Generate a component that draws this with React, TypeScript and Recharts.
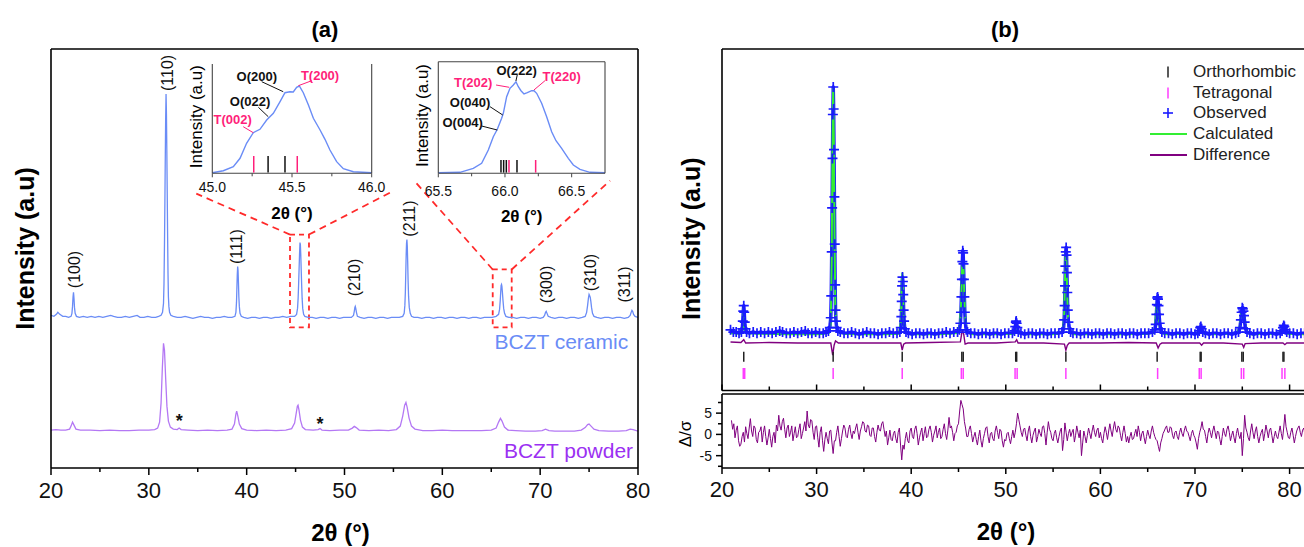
import React from 'react';
import { ComposedChart, Line, Scatter, XAxis, YAxis, ReferenceLine, ReferenceArea } from 'recharts';

const SANS = '"Liberation Sans", Arial, Helvetica, sans-serif';

// ---------------- Panel (a) data: 2θ (deg), intensity (a.u., stacked) ----------------
const ceramicPattern: number[][] = [
  [20.0,153],[20.3,152],[20.55,154],[20.7,156],[20.9,154],[21.2,152],[21.5,152],[21.8,151],[22.05,152],[22.14,155],[22.2,162],[22.25,171],[22.3,176],[22.35,170],[22.4,161],[22.47,155],[22.6,152],[22.9,151],[23.3,152],[23.7,151],[24.1,152],[24.5,151],[24.9,152],[25.3,151],[25.7,152],[26.1,153],[26.4,152],[26.8,151],[27.2,151],[27.6,152],[28.0,151],[28.4,152],[28.8,153],[29.1,151],[29.5,151],[29.9,152],[30.3,151],[30.7,151],[31.0,152],[31.25,153],[31.4,156],[31.5,165],[31.55,185],[31.6,225],[31.64,265],[31.68,310],[31.72,350],[31.76,375],[31.8,355],[31.84,318],[31.88,275],[31.92,232],[31.96,195],[32.0,172],[32.05,162],[32.12,156],[32.25,153],[32.5,152],[32.9,151],[33.3,151],[33.7,152],[34.1,151],[34.5,150],[34.9,151],[35.3,152],[35.7,151],[36.1,151],[36.5,150],[36.9,151],[37.3,151],[37.7,152],[38.1,151],[38.5,151],[38.8,152],[38.9,156],[38.96,166],[39.0,180],[39.04,194],[39.08,202],[39.12,198],[39.16,186],[39.2,172],[39.25,162],[39.32,155],[39.45,152],[39.7,151],[40.1,150],[40.5,151],[40.9,151],[41.3,150],[41.7,151],[42.1,151],[42.5,150],[42.9,151],[43.3,151],[43.7,152],[44.1,151],[44.5,152],[44.9,152],[45.1,154],[45.2,160],[45.26,170],[45.31,184],[45.36,200],[45.41,216],[45.45,226],[45.49,224],[45.53,214],[45.57,200],[45.62,184],[45.67,170],[45.73,160],[45.82,154],[45.95,152],[46.3,151],[46.7,151],[47.1,150],[47.5,151],[47.9,151],[48.3,150],[48.7,151],[49.1,151],[49.5,150],[49.9,151],[50.3,151],[50.7,151],[50.92,153],[51.0,157],[51.06,161],[51.1,162],[51.15,160],[51.22,156],[51.32,152],[51.6,151],[52.0,150],[52.4,151],[52.8,151],[53.2,150],[53.6,151],[54.0,151],[54.4,150],[54.8,151],[55.2,151],[55.6,151],[55.95,152],[56.1,155],[56.17,163],[56.22,176],[56.26,194],[56.3,212],[56.34,225],[56.38,229],[56.42,222],[56.46,206],[56.5,188],[56.55,172],[56.62,161],[56.72,155],[56.85,152],[57.1,151],[57.5,151],[57.9,150],[58.3,151],[58.7,151],[59.1,150],[59.5,151],[59.9,151],[60.3,150],[60.7,151],[61.1,151],[61.5,150],[61.9,151],[62.3,151],[62.7,150],[63.1,151],[63.5,151],[63.9,150],[64.3,151],[64.7,151],[65.1,151],[65.5,152],[65.75,154],[65.85,159],[65.92,168],[65.97,177],[66.01,183],[66.05,184],[66.09,182],[66.14,176],[66.2,168],[66.27,160],[66.36,155],[66.5,152],[66.8,151],[67.2,151],[67.6,150],[68.0,151],[68.4,151],[68.8,150],[69.2,151],[69.6,151],[70.0,150],[70.3,151],[70.45,153],[70.55,156],[70.62,157],[70.7,155],[70.82,152],[71.1,151],[71.5,150],[71.9,151],[72.3,151],[72.7,150],[73.1,151],[73.5,151],[73.9,150],[74.3,151],[74.6,152],[74.75,156],[74.85,163],[74.93,170],[75.0,174],[75.05,173],[75.12,171],[75.18,167],[75.25,161],[75.35,155],[75.5,152],[75.8,151],[76.2,150],[76.6,151],[77.0,151],[77.4,150],[77.8,151],[78.2,151],[78.6,150],[79.0,151],[79.2,153],[79.3,156],[79.38,158],[79.45,157],[79.55,154],[79.7,152],[80.0,151],
];

const powderPattern: number[][] = [
  [20.0,38],[20.5,38.5],[21.0,38],[21.5,38],[21.9,39],[22.05,42],[22.2,46],[22.35,43],[22.55,39],[23.0,38],[24.0,38],[25.0,37.5],[26.0,38],[27.0,37.5],[28.0,37.5],[29.0,38],[30.0,38],[30.6,38.5],[30.9,40],[31.1,46],[31.25,65],[31.38,100],[31.5,125],[31.6,118],[31.72,90],[31.85,62],[32.0,47],[32.2,41],[32.5,39],[32.9,38.5],[33.1,40],[33.3,38.5],[34.0,38],[35.0,37.5],[36.0,38],[37.0,37.5],[38.0,38],[38.5,39],[38.75,44],[38.9,54],[38.98,57],[39.1,52],[39.25,44],[39.5,39.5],[40.0,38],[41.0,37.5],[42.0,38],[43.0,37.5],[44.0,38],[44.6,39.5],[44.9,45],[45.05,54],[45.18,62],[45.25,63],[45.35,58],[45.5,48],[45.7,41],[46.0,38.5],[46.8,38],[47.3,38.5],[47.5,39.5],[47.7,38],[48.5,37.5],[49.5,38],[50.4,38],[50.8,40],[51.0,41.7],[51.2,40.5],[51.5,38],[52.5,37.5],[53.5,38],[54.5,37.5],[55.3,38.5],[55.7,42],[55.95,52],[56.15,63],[56.28,65.7],[56.4,61],[56.6,50],[56.85,42],[57.2,39],[58.0,37.5],[59.0,37.5],[60.0,38],[61.0,37.5],[62.0,37.5],[63.0,37.5],[64.0,37.5],[65.0,38],[65.5,40],[65.75,46],[65.94,49.7],[66.1,47],[66.35,41],[66.7,38],[67.5,37.5],[68.5,37],[69.5,37],[70.2,37.5],[70.55,39],[70.9,37.5],[71.5,37],[72.5,37],[73.5,37],[74.2,38],[74.6,40.5],[74.85,43.5],[75.0,44],[75.2,42],[75.5,39],[76.0,37.5],[77.0,37],[78.0,37],[78.8,37.5],[79.2,39],[79.5,38.5],[80.0,37],
];

const peakLabels = [
  { x: 22.36, y: 199, text: '(100)' },
  { x: 31.9, y: 396, text: '(110)' },
  { x: 38.98, y: 222, text: '(111)' },
  { x: 51.07, y: 191, text: '(210)' },
  { x: 56.6, y: 250, text: '(211)' },
  { x: 70.67, y: 184, text: '(300)' },
  { x: 75.1, y: 196, text: '(310)' },
  { x: 78.67, y: 184, text: '(311)' },
];
const impurityMarks = [
  { x: 33.1, y: 47, text: '*' },
  { x: 47.5, y: 44, text: '*' },
];
const ceramicName = [{ x: 79.0, y: 127, text: 'BCZT ceramic' }];
const powderName = [{ x: 79.5, y: 18, text: 'BCZT powder' }];
const zoomBoxes = [
  { x1: 44.43, x2: 46.37, y1: 141, y2: 234 },
  { x1: 65.15, x2: 67.09, y1: 141, y2: 199 },
];
const zoomLeaders: number[][][] = [
  [[44.43, 234], [34.85, 275]],
  [[46.37, 234], [54.86, 277]],
  [[65.15, 199], [57.31, 286]],
  [[67.09, 199], [77.14, 288]],
];

// ---------------- Inset 1 (45–46°) ----------------
const inset1Curve: number[][] = [
  [45.0,0.6],[45.069,2.6],[45.132,6.6],[45.174,15],[45.215,30],[45.257,40.6],[45.299,44],[45.341,53.3],[45.383,60],[45.425,71.6],[45.456,80.6],[45.487,81.6],[45.508,81.3],[45.529,86],[45.546,87.3],[45.571,80.6],[45.603,68.3],[45.634,55],[45.676,43.3],[45.707,34],[45.738,23.3],[45.78,11.6],[45.822,4.6],[45.885,1.6],[46.0,0.6],
];
const inset1Ortho = [45.35, 45.456];
const inset1Tetra = [45.26, 45.533];
const inset1OrthoNotes = [
  { x: 45.279, y: 97.3, text: 'O(200)' },
  { x: 45.237, y: 71.6, text: 'O(022)' },
];
const inset1TetraNotes = [
  { x: 45.676, y: 98.3, text: 'T(200)' },
  { x: 45.128, y: 54, text: 'T(002)' },
];
const inset1OrthoLeaders: number[][][] = [
  [[45.31, 91.6], [45.445, 81.6]],
  [[45.289, 66], [45.351, 56.6]],
];
const inset1TetraLeaders: number[][][] = [
  [[45.624, 92.6], [45.54, 87.6]],
  [[45.194, 46.6], [45.257, 40.6]],
];
const inset1Ticks = [45.0, 45.25, 45.5, 45.75, 46.0];

// ---------------- Inset 2 (65.5–66.75°) ----------------
const inset2Curve: number[][] = [
  [65.5,0.6],[65.6625,1],[65.7625,5],[65.825,10],[65.875,23.3],[65.9125,36.6],[65.9425,44],[65.975,55],[65.9875,60],[66.0125,76.6],[66.0375,85],[66.0625,88.3],[66.0825,91.6],[66.1,86.6],[66.12,82.6],[66.1425,79.3],[66.1675,80.6],[66.2,82.6],[66.2175,82.6],[66.2375,80],[66.275,70],[66.3125,56.6],[66.35,41.6],[66.3825,32.6],[66.425,25],[66.475,15],[66.5125,8.3],[66.5625,4],[66.6375,1],[66.75,0.6],
];
const inset2Ortho = [65.97, 65.99, 66.01, 66.09];
const inset2Tetra = [66.03, 66.23];
const inset2OrthoNotes = [
  { x: 66.088, y: 103.3, text: 'O(222)' },
  { x: 65.738, y: 70.6, text: 'O(040)' },
  { x: 65.683, y: 50.6, text: 'O(004)' },
];
const inset2TetraNotes = [
  { x: 65.762, y: 90.6, text: 'T(202)' },
  { x: 66.425, y: 97.3, text: 'T(220)' },
];
const inset2OrthoLeaders: number[][][] = [
  [[66.092, 98.3], [66.082, 92.3]],
  [[65.888, 66.6], [65.983, 58.3]],
  [[65.825, 47.3], [65.942, 43.3]],
];
const inset2TetraLeaders: number[][][] = [
  [[65.933, 88.3], [66.032, 86]],
  [[66.3, 92.6], [66.217, 83.3]],
];
const inset2Ticks = [65.5, 65.75, 66.0, 66.25, 66.5];

// ---------------- Panel (b) data ----------------
const observedTail: number[][] = [[80.4,151],[80.8,150],[81.2,151],[81.6,151],[82.0,150],[82.6,151]];
const calculatedPattern: number[][] = [
  [20.9,151],[22.0,150.5],[22.2,155],[22.28,174],[22.36,158],[22.5,151],[24,150.5],[27,150],[30,150],[31.3,151],[31.5,160],[31.6,220],[31.68,320],[31.75,374],[31.82,330],[31.9,240],[31.98,175],[32.1,156],[32.4,151],[34,150],[37,150],[38.7,150.5],[38.9,160],[39.0,195],[39.06,206],[39.13,190],[39.22,162],[39.4,152],[40,150],[43,150],[44.9,151],[45.15,158],[45.28,180],[45.38,210],[45.45,217],[45.52,212],[45.62,186],[45.72,162],[45.9,152],[46.5,150],[49,150],[50.8,150.5],[51.0,155],[51.1,159],[51.2,155],[51.4,151],[52,150],[55,150],[56.05,152],[56.18,170],[56.27,205],[56.34,225],[56.4,220],[56.48,190],[56.58,163],[56.75,152],[57.2,150],[60,150],[63,150],[65.6,151],[65.8,158],[65.92,175],[66.0,181],[66.08,179],[66.16,168],[66.28,156],[66.5,151],[67,150],[70.2,150.5],[70.45,154],[70.58,156.5],[70.7,154],[70.95,150.5],[72,150],[74.5,151],[74.75,158],[74.9,168],[75.0,171],[75.1,170],[75.2,165],[75.35,156],[75.6,151],[76,150],[78.9,150.5],[79.2,155],[79.35,157],[79.5,154],[79.75,150.5],[81,150],[82.6,150],
];
const differencePattern: number[][] = [
  [20.9,143],[22.0,142.5],[22.3,145],[22.5,142],[25,142.5],[28,142],[31.5,142],[31.7,131],[31.85,140],[32.0,144],[32.3,142],[35,142],[38.9,142],[39.05,135.5],[39.2,141],[39.4,142],[42,142.5],[45.2,143],[45.4,154],[45.55,150],[45.7,141],[46,142],[49,142],[51.0,143],[51.15,145],[51.3,142],[54,142],[56.2,141],[56.35,135.5],[56.5,140],[56.7,142],[60,142],[63,142.5],[65.9,142],[66.1,137.5],[66.3,141],[66.5,142],[70.5,142],[70.7,140],[70.9,142],[73,142],[75.0,141],[75.15,138],[75.3,141.5],[77,142],[79.3,142],[79.5,140.5],[79.7,142],[82.6,142],
];
const orthoReflections = [22.3, 31.75, 39.05, 45.35, 45.5, 51.05, 51.15, 56.35, 66.0, 70.55, 70.65, 74.95, 75.1, 79.3, 79.4];
const tetraReflections = [22.25, 22.4, 31.75, 39.05, 45.3, 45.5, 50.98, 51.2, 56.35, 66.05, 70.45, 70.65, 74.9, 75.15, 79.2, 79.5];
const orthoRow = 129.5;
const tetraRow = 114.3;

// Δ/σ sampled every 0.125° from 21°
const deltaStart = 21;
const deltaStep = 0.125;
const deltaSigma = [
  3.3, 1.2, 2.5, -0.8, 1.0, 2.0, -1.5, -2.8,
  -2.3, -0.5, 0.5, -1.8, 1.8, 0.2, -1.0, 1.5,
  3.7, 0.8, -0.5, 2.0, 1.5, -1.2, -2.0, 0.5,
  0.8, 1.8, -1.8, 0.5, 2.0, -0.5, -2.5, -0.8,
  1.2, -1.0, -3.0, -0.5, 0.5, -2.0, 2.2, 0.8,
  4.5, 2.0, 1.0, 3.0, 3.8, 1.2, -0.8, 1.5,
  2.2, -0.5, 0.5, 2.0, -1.5, 0.2, 1.8, -0.8,
  -0.5, 1.2, 2.5, -1.0, 0.2, 1.5, 3.0, 0.8,
  5.5, 2.2, 1.5, 3.5, 3.2, 0.5, -1.2, 1.8,
  2.0, -0.8, -3.0, 0.5, 1.8, -1.5, -4.0, -1.2,
  0.5, -1.0, -2.2, 0.8, 1.0, -2.0, -4.5, -1.5,
  -1.5, 0.5, 2.0, -0.5, -2.8, -1.0, 0.8, 2.2,
  1.5, -0.5, -0.8, 1.2, 2.2, 0.2, -1.0, 0.8,
  0.2, 1.5, 2.5, 0.5, -1.2, 0.8, 1.8, 3.0,
  2.7, 0.8, 0.5, 2.2, 2.0, -0.2, -0.5, 1.5,
  1.5, -0.5, -1.8, 0.5, 2.2, 1.0, 0.8, 2.5,
  3.0, 1.2, -0.5, 0.8, -2.5, -0.8, 1.0, -1.2,
  -1.5, 0.2, 0.8, -1.0, -2.0, 0.5, 1.5, -2.5,
  -6.0, -2.5, -3.5, -1.0, 0.5, -1.5, -2.0, 0.8,
  1.5, -0.5, -1.0, 1.2, 2.0, 0.2, -2.5, -0.8,
  0.5, 1.5, -1.5, 0.2, 1.8, -0.8, -0.5, 1.2,
  2.0, 0.5, -1.8, -0.2, 0.8, 2.0, -0.8, 0.5,
  1.5, -1.0, -0.5, 1.2, 2.5, 0.2, -1.2, 1.0,
  4.0, 1.5, 2.0, 0.5, -1.5, 0.2, 0.5, 2.0,
  2.5, 5.5, 8.0, 7.0, 6.0, 3.0, 1.5, -0.5,
  -0.5, 1.2, 2.0, 0.2, -1.8, -0.5, 0.5, -1.2,
  -2.5, -0.5, 1.0, -1.5, -3.0, -1.0, 0.2, 1.5,
  1.8, -0.5, -2.0, 0.2, 0.5, -1.0, -1.5, 0.8,
  2.0, 0.5, -1.0, 1.2, 0.8, -1.5, -3.0, -1.2,
  -1.5, 0.2, 0.5, -1.0, -2.2, -0.5, 1.0, -0.8,
  0.5, 2.5, 5.0, 3.5, 2.0, 0.5, -0.5, 1.2,
  1.5, -0.2, -1.5, 0.8, 2.0, -0.5, -2.0, -0.2,
  0.8, 1.5, -1.8, -0.5, 1.2, 0.2, -0.5, 1.8,
  2.0, 0.2, -2.5, 0.5, 3.0, 1.2, 0.5, -1.0,
  -1.5, 0.2, 1.0, -0.8, -2.0, -0.5, 0.8, 1.5,
  -3.8, -1.2, 2.7, 0.5, -1.5, 0.2, 1.2, -0.5,
  0.5, 1.2, -1.8, -0.2, 2.0, 0.5, -0.8, 1.0,
  -5.0, -2.0, 0.8, -0.5, -2.0, -0.2, 1.5, 0.2,
  -1.0, 0.8, 2.2, 0.5, -0.5, 1.0, 1.5, -0.8,
  0.5, -1.0, -2.0, 0.2, 1.8, 0.5, -1.2, 0.8,
  2.5, 0.8, -0.5, 1.5, 3.0, 1.2, 0.5, 2.0,
  1.5, -0.2, -1.5, 0.5, 2.0, 0.2, -1.8, -0.5,
  -2.0, -0.5, 0.5, -1.2, -1.0, 0.2, 1.2, -0.5,
  2.0, 0.5, -1.5, 0.2, 0.8, -0.8, -2.2, -0.5,
  1.0, -0.2, -1.0, 0.8, 2.0, 0.5, -0.5, -1.2,
  -1.5, -2.8, -4.0, -2.0, -1.0, 0.2, 0.8, 1.5,
  2.0, 0.5, 0.5, 1.8, 1.5, -0.2, -1.0, 0.5,
  0.8, -0.5, -1.2, 0.5, 1.5, 0.2, -0.5, 1.0,
  2.0, 0.8, 0.5, -0.5, -1.5, 0.2, 1.0, -0.2,
  -0.8, -2.0, -3.5, -1.0, 0.5, 1.5, 3.0, 1.2,
  1.0, -0.5, -2.0, 0.2, 1.5, 0.5, -0.8, 0.8,
  2.0, 0.5, -1.0, 0.8, 0.5, -1.2, -2.5, -0.5,
  1.5, 0.2, -0.5, 1.2, 2.0, 0.5, -1.5, -0.2,
  0.8, -0.8, -2.0, 0.2, 1.5, -0.2, -1.0, 0.5,
  -5.0, -1.0, 4.5, 1.5, 0.5, -0.8, -1.5, 0.8,
  2.5, 0.5, -1.0, 0.8, 1.8, -0.5, -2.0, -0.5,
  0.5, 1.2, -1.5, 0.2, 2.2, 0.8, -0.8, 1.0,
  1.5, -0.2, -2.0, -0.5, 0.8, -0.5, -1.0, 0.5,
  2.0, 0.2, -1.2, 1.5, 4.7, 1.8, 0.5, -0.8,
  -1.0, 0.5, 1.5, -0.2, -2.0, -0.5, 0.8, 1.5,
  2.0, 0.5, -0.5, 1.0, 1.5, -0.2, -1.0, 0.5,
  0.5, -0.5, 1.0,
];

const mainTicks = [20, 25, 30, 35, 40, 45, 50, 55, 60, 65, 70, 75, 80];
const deltaTicks = [-7.5, -5, -2.5, 0, 2.5, 5, 7.5];
const legendNames = ['Orthorhombic', 'Tetragonal', 'Observed', 'Calculated', 'Difference'];

// ---------------- helpers ----------------
const pts = (arr: number[][]) => arr.map(([x, y]) => ({ x, y }));
const rowPts = (xs: number[], y: number) => xs.map((x) => ({ x, y }));
const seg = (s: number[][]) => [{ x: s[0][0], y: s[0][1] }, { x: s[1][0], y: s[1][1] }];

const C = {
  ceramic: '#6a8cf6',
  powder: '#b478f4',
  powderText: '#9b30f2',
  red: '#ff2a2a',
  pink: '#ff1f7a',
  obs: '#1a1aff',
  calc: '#33ee33',
  diff: '#800080',
  ortho: '#222222',
  tetra: '#ff3dff',
};

const XTick = (props: any) => {
  const { x, y, payload, cfg } = props;
  const v = payload.value;
  const r = v / cfg.majorEvery;
  const isMajor = Math.abs(r - Math.round(r)) < 1e-6;
  const len = isMajor ? cfg.majorLen : cfg.minorLen;
  return (
    <g>
      <line x1={x} x2={x} y1={y} y2={y + cfg.dir * len} stroke={cfg.color || '#000'} strokeWidth={cfg.sw || 1.5} />
      {isMajor && cfg.labels ? (
        <text x={x} y={y + cfg.labelDy} textAnchor="middle" fontFamily={SANS} fontSize={cfg.fontSize} fill="#111">
          {cfg.fmt ? cfg.fmt(v) : String(v)}
        </text>
      ) : null}
    </g>
  );
};

const DeltaTick = (props: any) => {
  const { x, y, payload } = props;
  const v = payload.value;
  const major = Math.abs(v % 5) < 1e-6;
  return (
    <g>
      <line x1={x} x2={x - (major ? 6 : 4)} y1={y} y2={y} stroke="#000" strokeWidth={1.5} />
      {major ? (
        <text x={x - 10} y={y} textAnchor="end" dominantBaseline="central" fontFamily={SANS} fontSize={14} fill="#111">
          {String(v)}
        </text>
      ) : null}
    </g>
  );
};

const YTitle = (props: any) => {
  const { viewBox, text, dx, dy, size, bold } = props;
  const vb = viewBox || { x: 0, y: 0, width: 0, height: 0 };
  const cx = vb.x + (vb.width || 0) + dx;
  const cy = vb.y + vb.height / 2 + dy;
  return (
    <text x={cx} y={cy} transform={`rotate(-90 ${cx} ${cy})`} textAnchor="middle" dominantBaseline="central"
      fontFamily={SANS} fontWeight={bold ? 'bold' : 'normal'} fontSize={size} fill="#000">
      {text}
    </text>
  );
};

const XTitle = (props: any) => {
  const { viewBox, text, dx, dy, size } = props;
  const vb = viewBox || { x: 0, y: 0, width: 0, height: 0 };
  const cx = vb.x + vb.width / 2 + dx;
  const cy = vb.y + dy;
  return (
    <text x={cx} y={cy} textAnchor="middle" fontFamily={SANS} fontWeight="bold" fontSize={size} fill="#000">
      {text}
    </text>
  );
};

const VTick = (props: any) => {
  const { cx, cy, color, half, w } = props;
  if (cx == null || cy == null) return null;
  return <line x1={cx} x2={cx} y1={cy - half} y2={cy + half} stroke={color} strokeWidth={w} />;
};

const Plus = (props: any) => {
  const { cx, cy } = props;
  if (cx == null || cy == null) return null;
  return (
    <g stroke={C.obs} strokeWidth={1.7}>
      <line x1={cx - 5} x2={cx + 5} y1={cy} y2={cy} />
      <line x1={cx} x2={cx} y1={cy - 5} y2={cy + 5} />
    </g>
  );
};

const TextMark = (props: any) => {
  const { cx, cy, payload, color, size, bold, anchor, rotate } = props;
  if (cx == null || cy == null) return null;
  return (
    <text x={cx} y={cy} transform={rotate ? `rotate(-90 ${cx} ${cy})` : undefined} textAnchor={anchor || 'middle'}
      dominantBaseline="central" fontFamily={SANS} fontSize={size} fontWeight={bold ? 'bold' : 'normal'} fill={color}>
      {payload.text}
    </text>
  );
};

const frame = { stroke: '#000', strokeWidth: 1.6 };

// ---------------- Panel (a) ----------------
function PanelA() {
  const W = 660, H = 547, xh = 40;
  const plot = { left: 51, right: 638, top: 49, bottom: 468 };
  const dom: [number, number] = [20, 80];
  const ydom: [number, number] = [0, 420];
  return (
    <div style={{ position: 'absolute', left: 0, top: 0 }}>
      <ComposedChart width={W} height={H} margin={{ top: plot.top - 1, left: plot.left - 1, right: W - plot.right - 1, bottom: H - plot.bottom - xh }}>
        <XAxis xAxisId="x" dataKey="x" type="number" domain={dom} ticks={mainTicks} interval={0} allowDataOverflow height={xh}
          tickLine={false} tickSize={0} tickMargin={0} axisLine={frame}
          tick={(p: any) => <XTick {...p} cfg={{ majorEvery: 10, majorLen: 7, minorLen: 4, dir: 1, labelDy: 30, fontSize: 22, labels: true }} />}
          label={{ content: (p: any) => <XTitle viewBox={p.viewBox} text="2θ (°)" dx={-4} dy={73} size={24} /> }} />
        <XAxis xAxisId="top" orientation="top" type="number" domain={dom} height={1} tick={false} tickLine={false} axisLine={frame} />
        <YAxis yAxisId="y" type="number" domain={ydom} width={1} tick={false} tickLine={false} axisLine={frame} allowDataOverflow
          label={{ content: (p: any) => <YTitle viewBox={p.viewBox} text="Intensity (a.u)" dx={-26} dy={-10} size={25} bold /> }} />
        <YAxis yAxisId="r" orientation="right" type="number" domain={ydom} width={1} tick={false} tickLine={false} axisLine={frame} />

        <Line xAxisId="x" yAxisId="y" data={pts(powderPattern)} dataKey="y" type="linear" stroke={C.powder} strokeWidth={1.3} dot={false} isAnimationActive={false} />
        <Line xAxisId="x" yAxisId="y" data={pts(ceramicPattern)} dataKey="y" type="linear" stroke={C.ceramic} strokeWidth={1.3} dot={false} isAnimationActive={false} />

        {zoomBoxes.map((b, i) => (
          <ReferenceArea key={'zb' + i} xAxisId="x" yAxisId="y" x1={b.x1} x2={b.x2} y1={b.y1} y2={b.y2}
            fill="none" fillOpacity={0} stroke={C.red} strokeWidth={1.8} strokeDasharray="5 4" />
        ))}
        {zoomLeaders.map((s, i) => (
          <ReferenceLine key={'zl' + i} xAxisId="x" yAxisId="y" segment={seg(s)} stroke={C.red} strokeWidth={1.8} strokeDasharray="7 5" />
        ))}

        <Scatter xAxisId="x" yAxisId="y" data={peakLabels} dataKey="y" isAnimationActive={false}
          shape={(p: any) => <TextMark {...p} color="#111" size={16} rotate />} />
        <Scatter xAxisId="x" yAxisId="y" data={impurityMarks} dataKey="y" isAnimationActive={false}
          shape={(p: any) => <TextMark {...p} color="#111" size={18} bold />} />
        <Scatter xAxisId="x" yAxisId="y" data={ceramicName} dataKey="y" isAnimationActive={false}
          shape={(p: any) => <TextMark {...p} color={C.ceramic} size={21} anchor="end" />} />
        <Scatter xAxisId="x" yAxisId="y" data={powderName} dataKey="y" isAnimationActive={false}
          shape={(p: any) => <TextMark {...p} color={C.powderText} size={21} anchor="end" />} />
      </ComposedChart>
    </div>
  );
}

// ---------------- Insets ----------------
function Inset(props: any) {
  const { left, top, W, H, plot, dom, ymax, ticks, curve, ortho, tetra, tickRow, tickHalf, oNotes, tNotes, oLeaders, tLeaders, showTop, labelDy, titleDy } = props;
  const xh = 30;
  const m = {
    top: plot.top - top - (showTop ? 1 : 0),
    left: plot.left - left - 1,
    right: left + W - plot.right - 1,
    bottom: top + H - plot.bottom - xh,
  };
  const ax = { stroke: '#444', strokeWidth: 1.1 };
  return (
    <div style={{ position: 'absolute', left, top }}>
      <ComposedChart width={W} height={H} margin={m}>
        <XAxis xAxisId="x" dataKey="x" type="number" domain={dom} ticks={ticks} interval={0} height={xh}
          tickLine={false} tickSize={0} tickMargin={0} axisLine={ax}
          tick={(p: any) => <XTick {...p} cfg={{ majorEvery: 0.5, majorLen: 4, minorLen: 3, dir: 1, labelDy, fontSize: 14, labels: true, sw: 1, color: '#444', fmt: (v: number) => v.toFixed(1) }} />}
          label={{ content: (p: any) => <XTitle viewBox={p.viewBox} text="2θ (°)" dx={0} dy={titleDy} size={17} /> }} />
        {showTop ? <XAxis xAxisId="top" orientation="top" type="number" domain={dom} height={1} tick={false} tickLine={false} axisLine={ax} /> : null}
        <YAxis yAxisId="y" type="number" domain={[0, ymax]} width={1} tick={false} tickLine={false} axisLine={ax}
          label={{ content: (p: any) => <YTitle viewBox={p.viewBox} text="Intensity (a.u)" dx={-15.5} dy={-2} size={17} /> }} />
        <YAxis yAxisId="r" orientation="right" type="number" domain={[0, ymax]} width={1} tick={false} tickLine={false} axisLine={ax} />

        <Line xAxisId="x" yAxisId="y" data={pts(curve)} dataKey="y" type="linear" stroke={C.ceramic} strokeWidth={1.4} dot={false} isAnimationActive={false} />
        <Scatter xAxisId="x" yAxisId="y" data={rowPts(ortho, tickRow)} dataKey="y" isAnimationActive={false}
          shape={(p: any) => <VTick {...p} color="#111" half={tickHalf} w={1.5} />} />
        <Scatter xAxisId="x" yAxisId="y" data={rowPts(tetra, tickRow)} dataKey="y" isAnimationActive={false}
          shape={(p: any) => <VTick {...p} color={C.pink} half={tickHalf} w={1.5} />} />
        {oLeaders.map((s: number[][], i: number) => (
          <ReferenceLine key={'ol' + i} xAxisId="x" yAxisId="y" segment={seg(s)} stroke="#111" strokeWidth={1} />
        ))}
        {tLeaders.map((s: number[][], i: number) => (
          <ReferenceLine key={'tl' + i} xAxisId="x" yAxisId="y" segment={seg(s)} stroke={C.pink} strokeWidth={1} />
        ))}
        <Scatter xAxisId="x" yAxisId="y" data={oNotes} dataKey="y" isAnimationActive={false}
          shape={(p: any) => <TextMark {...p} color="#111" size={13} bold />} />
        <Scatter xAxisId="x" yAxisId="y" data={tNotes} dataKey="y" isAnimationActive={false}
          shape={(p: any) => <TextMark {...p} color={C.pink} size={13} bold />} />
      </ComposedChart>
    </div>
  );
}

// ---------------- Panel (b) ----------------
function PanelBTop() {
  const W = 654, H = 400, xh = 5;
  const plot = { left: 722, top: 49, bottom: 390.5 };
  const dom: [number, number] = [20, 82.58];
  const ydom: [number, number] = [98.8, 409.6];
  const observed = pts([...ceramicPattern.filter(([x]) => x >= 20.9), ...observedTail]);
  return (
    <div style={{ position: 'absolute', left: 660, top: 0 }}>
      <ComposedChart width={W} height={H} margin={{ top: plot.top - 1, left: plot.left - 660 - 1, right: 0, bottom: H - plot.bottom - xh }}>
        <XAxis xAxisId="x" dataKey="x" type="number" domain={dom} ticks={mainTicks} interval={0} allowDataOverflow height={xh}
          tickLine={false} tickSize={0} tickMargin={0} axisLine={frame}
          tick={(p: any) => <XTick {...p} cfg={{ majorEvery: 10, majorLen: 6, minorLen: 4, dir: -1, labelDy: 0, fontSize: 0, labels: false }} />} />
        <XAxis xAxisId="top" orientation="top" type="number" domain={dom} height={1} tick={false} tickLine={false} axisLine={frame} />
        <YAxis yAxisId="y" type="number" domain={ydom} width={1} tick={false} tickLine={false} axisLine={frame} allowDataOverflow
          label={{ content: (p: any) => <YTitle viewBox={p.viewBox} text="Intensity (a.u)" dx={-31} dy={19} size={25} bold /> }} />

        <Line xAxisId="x" yAxisId="y" data={observed} dataKey="y" type="linear" stroke={C.obs} strokeWidth={3.5} strokeLinejoin="round" dot={false} isAnimationActive={false} />
        <Scatter xAxisId="x" yAxisId="y" data={observed} dataKey="y" isAnimationActive={false} shape={(p: any) => <Plus {...p} />} />
        <Line xAxisId="x" yAxisId="y" data={pts(calculatedPattern)} dataKey="y" type="linear" stroke={C.calc} strokeWidth={2} dot={false} isAnimationActive={false} />
        <Line xAxisId="x" yAxisId="y" data={pts(differencePattern)} dataKey="y" type="linear" stroke={C.diff} strokeWidth={1.4} dot={false} isAnimationActive={false} />
        <Scatter xAxisId="x" yAxisId="y" data={rowPts(orthoReflections, orthoRow)} dataKey="y" isAnimationActive={false}
          shape={(p: any) => <VTick {...p} color={C.ortho} half={5} w={1.5} />} />
        <Scatter xAxisId="x" yAxisId="y" data={rowPts(tetraReflections, tetraRow)} dataKey="y" isAnimationActive={false}
          shape={(p: any) => <VTick {...p} color={C.tetra} half={5.5} w={1.5} />} />
      </ComposedChart>
    </div>
  );
}

function PanelBBottom() {
  const W = 654, H = 167, xh = 40;
  const top = 380;
  const plot = { left: 722, top: 394, bottom: 468 };
  const dom: [number, number] = [20, 82.58];
  const data = deltaSigma.map((v, i) => ({ x: deltaStart + i * deltaStep, y: v }));
  return (
    <div style={{ position: 'absolute', left: 660, top }}>
      <ComposedChart width={W} height={H} margin={{ top: plot.top - top - 1, left: plot.left - 660 - 1, right: 0, bottom: top + H - plot.bottom - xh }}>
        <XAxis xAxisId="x" dataKey="x" type="number" domain={dom} ticks={mainTicks} interval={0} allowDataOverflow height={xh}
          tickLine={false} tickSize={0} tickMargin={0} axisLine={frame}
          tick={(p: any) => <XTick {...p} cfg={{ majorEvery: 10, majorLen: 6, minorLen: 4, dir: 1, labelDy: 29, fontSize: 22, labels: true }} />}
          label={{ content: (p: any) => <XTitle viewBox={p.viewBox} text="2θ (°)" dx={-12} dy={72} size={24} /> }} />
        <XAxis xAxisId="top" orientation="top" type="number" domain={dom} height={1} tick={false} tickLine={false} axisLine={frame} />
        <YAxis yAxisId="y" type="number" domain={[-7.9, 9.5]} ticks={deltaTicks} interval={0} width={1} allowDataOverflow
          tickLine={false} tickSize={0} tickMargin={0} axisLine={frame} tick={(p: any) => <DeltaTick {...p} />}
          label={{ content: (p: any) => <YTitle viewBox={p.viewBox} text="Δ/σ" dx={-37} dy={3} size={17} /> }} />
        <Line xAxisId="x" yAxisId="y" data={data} dataKey="y" type="linear" stroke={C.diff} strokeWidth={1} dot={false} isAnimationActive={false} />
      </ComposedChart>
    </div>
  );
}

function LegendB() {
  const sym = (i: number) => {
    if (i === 0) return <line x1={23} x2={23} y1={4.5} y2={15.5} stroke={C.ortho} strokeWidth={1.5} />;
    if (i === 1) return <line x1={23} x2={23} y1={4.5} y2={15.5} stroke={C.tetra} strokeWidth={1.5} />;
    if (i === 2) return (
      <g stroke={C.obs} strokeWidth={1.6}>
        <line x1={18} x2={28} y1={10} y2={10} />
        <line x1={23} x2={23} y1={5} y2={15} />
      </g>
    );
    if (i === 3) return <line x1={5} x2={42} y1={10} y2={10} stroke={C.calc} strokeWidth={2} />;
    return <line x1={5} x2={42} y1={10} y2={10} stroke={C.diff} strokeWidth={2} />;
  };
  return (
    <div style={{ position: 'absolute', left: 1145, top: 61.5 }}>
      {legendNames.map((n, i) => (
        <div key={n} style={{ display: 'flex', alignItems: 'center', height: 20.8 }}>
          <svg width={48} height={20} style={{ display: 'block' }}>{sym(i)}</svg>
          <span style={{ fontFamily: SANS, fontSize: 17, color: '#222', lineHeight: '20px', whiteSpace: 'nowrap' }}>{n}</span>
        </div>
      ))}
    </div>
  );
}

export default function App() {
  const titleStyle: React.CSSProperties = {
    position: 'absolute', top: 17, width: 100, textAlign: 'center', fontFamily: SANS, fontWeight: 'bold', fontSize: 22, lineHeight: '26px', color: '#000',
  };
  return (
    <div style={{ position: 'absolute', left: 0, top: 0, width: 1304, height: 547, overflow: 'hidden', background: '#fff' }}>
      <PanelA />
      <Inset left={150} top={30} W={250} H={200} plot={{ left: 212.3, right: 371.7, top: 64, bottom: 173.3 }}
        dom={[45.0, 46.0]} ymax={109.3} ticks={inset1Ticks} curve={inset1Curve} ortho={inset1Ortho} tetra={inset1Tetra}
        tickRow={9} tickHalf={8.3} oNotes={inset1OrthoNotes} tNotes={inset1TetraNotes}
        oLeaders={inset1OrthoLeaders} tLeaders={inset1TetraLeaders} showTop={false} labelDy={19} titleDy={45.5} />
      <Inset left={380} top={30} W={250} H={200} plot={{ left: 438.3, right: 605, top: 61.7, bottom: 173.3 }}
        dom={[65.5, 66.75]} ymax={111.6} ticks={inset2Ticks} curve={inset2Curve} ortho={inset2Ortho} tetra={inset2Tetra}
        tickRow={7} tickHalf={6.3} oNotes={inset2OrthoNotes} tNotes={inset2TetraNotes}
        oLeaders={inset2OrthoLeaders} tLeaders={inset2TetraLeaders} showTop={true} labelDy={23} titleDy={49} />
      <PanelBTop />
      <PanelBBottom />
      <LegendB />
      <div style={{ ...titleStyle, left: 275 }}>(a)</div>
      <div style={{ ...titleStyle, left: 955 }}>(b)</div>
    </div>
  );
}
